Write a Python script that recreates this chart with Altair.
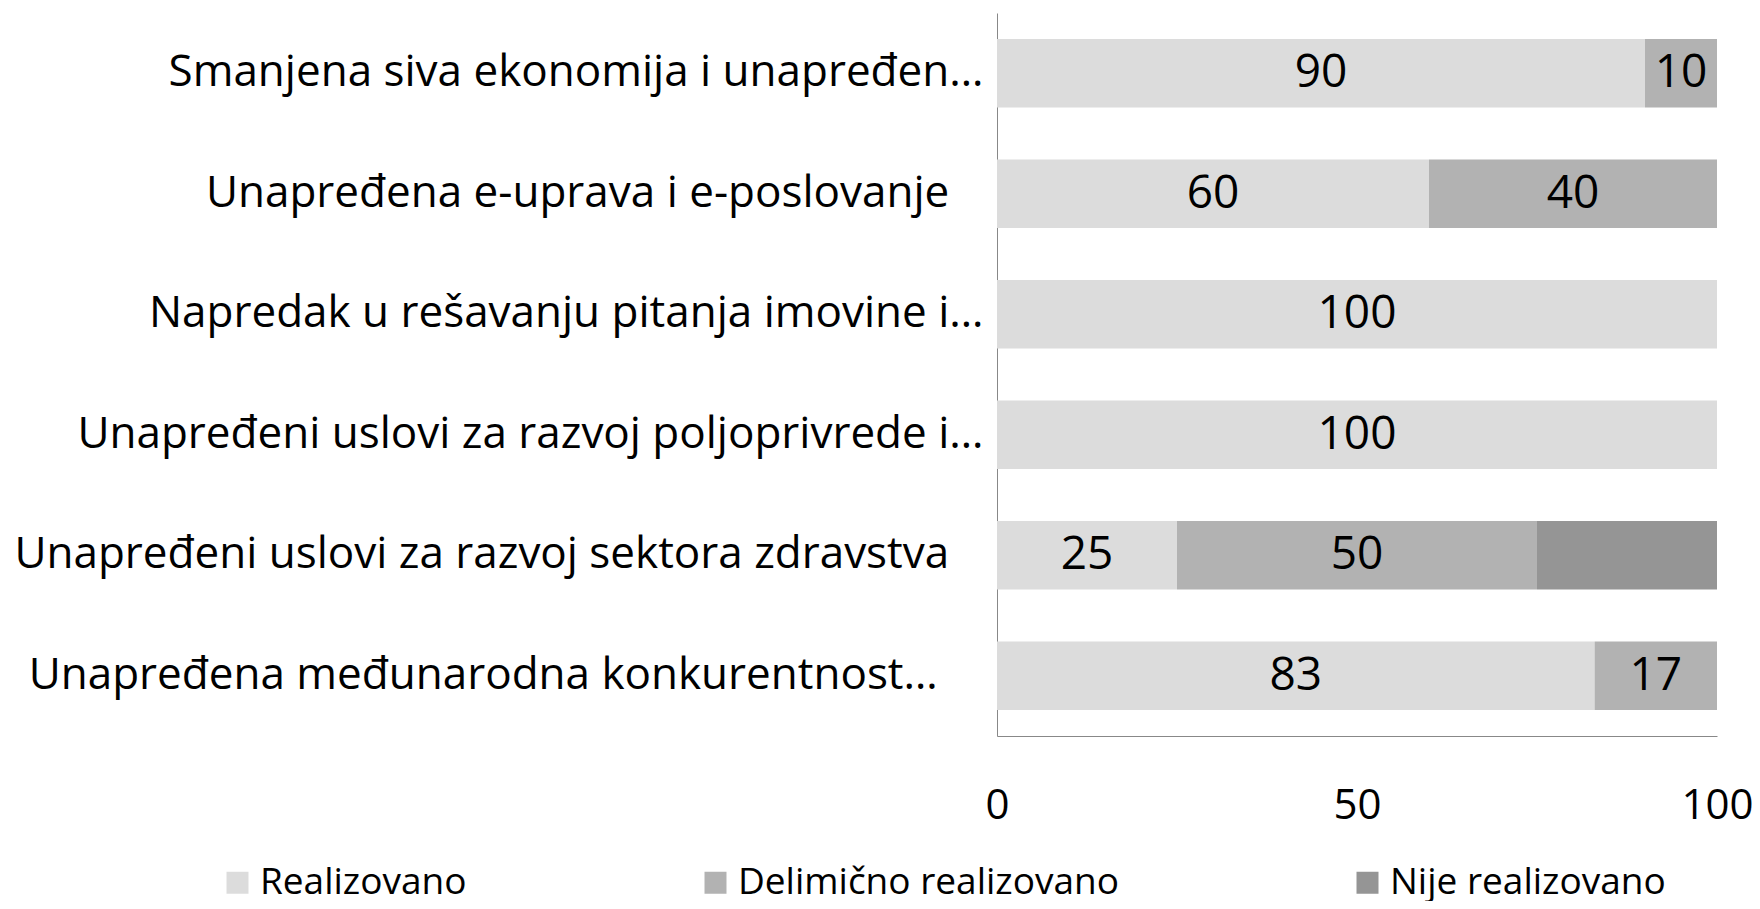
import altair as alt
import pandas as pd

PAD = "\u00a0"
END = "\u200b"
categories = [
    "Smanjena siva ekonomija i unapređen…",
    "Unapređena e-uprava i e-poslovanje" + PAD * 3 + END,
    "Napredak u rešavanju pitanja imovine i…",
    "Unapređeni uslovi za razvoj poljoprivrede i…",
    "Unapređeni uslovi za razvoj sektora zdravstva" + PAD * 3 + END,
    "Unapređena međunarodna konkurentnost…" + PAD * 4 + END,
]
series = ["Realizovano", "Delimično realizovano", "Nije realizovano"]
realizovano = [90, 60, 100, 100, 25, 83]
delimicno = [10, 40, 0, 0, 50, 17]
nije = [0, 0, 0, 0, 25, 0]
colors = ["#dcdcdc", "#b2b2b2", "#959595"]
labeled_series = ["Realizovano", "Delimično realizovano"]

rows = []
for vals, s in zip([realizovano, delimicno, nije], series):
    for c, v in zip(categories, vals):
        rows.append({"cat": c, "series": s, "value": v, "ord": series.index(s)})
df = pd.DataFrame(rows)

FONT = "Open Sans"
FS_CAT = 44
FS_NUM = 46
FS_AX = 42
FS_LEG = 37

base = alt.Chart(df).transform_stack(
    stack="value", groupby=["cat"], as_=["x0", "x1"],
    sort=[alt.SortField("ord", order="ascending")],
)

bars = base.mark_bar().encode(
    y=alt.Y("cat:N", sort=categories, title=None,
            scale=alt.Scale(paddingInner=0.43, paddingOuter=0.215),
            axis=alt.Axis(labelFontSize=FS_CAT, labelFont=FONT, labelColor="#000000",
                          ticks=False, domainColor="#888888", labelPadding=14,
                          labelLimit=1000)),
    x=alt.X("x0:Q", title=None,
            scale=alt.Scale(domain=[0, 100], nice=False),
            axis=alt.Axis(values=[0, 50, 100], grid=False, ticks=False,
                          domainColor="#888888", labelFontSize=FS_AX, labelFont=FONT,
                          labelColor="#000000", labelPadding=49, labelFlush=False)),
    x2="x1:Q",
    color=alt.Color("series:N", sort=series,
                    scale=alt.Scale(domain=series, range=colors),
                    legend=alt.Legend(title=None, orient="none", direction="horizontal",
                                      legendX=-778, legendY=851,
                                      symbolType="square", symbolSize=484,
                                      symbolStrokeWidth=0,
                                      labelFontSize=FS_LEG, labelFont=FONT,
                                      labelColor="#000000", columnPadding=230,
                                      labelOffset=4, labelLimit=1000)),
)

texts = base.transform_filter(
    alt.FieldOneOfPredicate(field="series", oneOf=labeled_series)
).transform_filter(alt.datum.value > 0).transform_calculate(
    mid="(datum.x0 + datum.x1) / 2"
).mark_text(font=FONT, fontSize=FS_NUM, color="#000000", baseline="middle").encode(
    y=alt.Y("cat:N", sort=categories),
    x=alt.X("mid:Q"),
    text=alt.Text("value:Q"),
)

chart = (bars + texts).properties(
    width=720, height=723,
    autosize=alt.AutoSizeParams(type="none"),
    padding={"left": 989, "top": 5, "right": 35, "bottom": 165},
).configure_view(stroke=None)

chart.save("out.html", embed_options={"renderer": "svg", "actions": False})
